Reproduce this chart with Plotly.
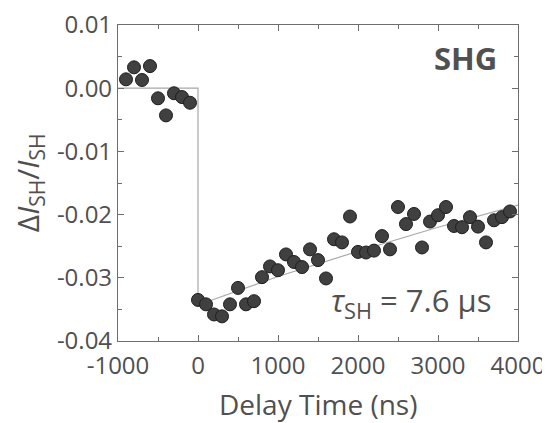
import plotly.graph_objects as go

# data points (delay in ns, relative change)
delay_ns = [-900, -800, -700, -600, -500, -400, -300, -200, -100,
            0, 100, 200, 300, 400, 500, 600, 700, 800, 900,
            1000, 1100, 1200, 1300, 1400, 1500, 1600, 1700, 1800, 1900,
            2000, 2100, 2200, 2300, 2400, 2500, 2600, 2700, 2800, 2900,
            3000, 3100, 3200, 3300, 3400, 3500, 3600, 3700, 3800, 3900]
dI_over_I = [0.0014, 0.0033, 0.0013, 0.0035, -0.0016, -0.0043, -0.0008, -0.0014, -0.0023,
             -0.0335, -0.0342, -0.0358, -0.0361, -0.0342, -0.0316, -0.0342, -0.0337, -0.0299, -0.0282,
             -0.0288, -0.0263, -0.0275, -0.0283, -0.0255, -0.0272, -0.0301, -0.0239, -0.0244, -0.0203,
             -0.0259, -0.0260, -0.0257, -0.0234, -0.0255, -0.0188, -0.0215, -0.0199, -0.0252, -0.0211,
             -0.0201, -0.0188, -0.0218, -0.0220, -0.0204, -0.0219, -0.0244, -0.0209, -0.0204, -0.0195]

# fit curve (step + exponential recovery)
fit_t = [-1000, 0, 0, 1000, 2000, 3000, 4000]
fit_y = [0.0, 0.0, -0.0343, -0.0298, -0.0258, -0.0220, -0.0185]

x_tickvals = [-1000, 0, 1000, 2000, 3000, 4000]
x_ticktext = ["-1000", "0", "1000", "2000", "3000", "4000"]
y_tickvals = [0.01, 0.00, -0.01, -0.02, -0.03, -0.04]
y_ticktext = ["0.01", "0.00", "-0.01", "-0.02", "-0.03", "-0.04"]

FONT = "Open Sans"
TXT = "#505050"
AX = "#6e6e6e"

fig = go.Figure()
fig.add_trace(go.Scatter(x=fit_t, y=fit_y, mode="lines",
                         line=dict(color="#a8a8a8", width=1.2), showlegend=False,
                         hoverinfo="skip"))
fig.add_trace(go.Scatter(x=delay_ns, y=dI_over_I, mode="markers",
                         marker=dict(size=13, color="#404040",
                                     line=dict(color="#1e1e1e", width=1)),
                         showlegend=False))

axis_common = dict(showline=True, linecolor=AX, linewidth=1.2, mirror="ticks",
                   ticks="inside", ticklen=6, tickcolor=AX, tickwidth=1.2,
                   showgrid=False, zeroline=False, automargin=False,
                   ticklabeloverflow="allow",
                   tickfont=dict(family=FONT, size=24, color=TXT))

fig.update_xaxes(range=[-1000, 4000], tickvals=x_tickvals, ticktext=x_ticktext,
                 minor=dict(ticks="inside", dtick=500, ticklen=4, tickcolor=AX, tickwidth=1.2),
                 ticklabelstandoff=3,
                 **axis_common)
fig.update_yaxes(range=[-0.04, 0.01], tickvals=y_tickvals, ticktext=y_ticktext,
                 minor=dict(ticks="inside", dtick=0.005, tick0=0, ticklen=4, tickcolor=AX, tickwidth=1.2),
                 ticklabelstandoff=0,
                 **axis_common)

fig.add_annotation(text="Delay Time (ns)", xref="paper", yref="paper",
                   x=0.5, y=-0.2, showarrow=False, xanchor="center", yanchor="middle",
                   font=dict(family=FONT, size=28, color=TXT))
fig.add_annotation(text="Δ<i>I</i><sub>SH</sub>/<i>I</i><sub>SH</sub>", xref="paper", yref="paper",
                   x=-0.222, y=0.5, textangle=-90, showarrow=False,
                   xanchor="center", yanchor="middle",
                   font=dict(family=FONT, size=30, color=TXT))
fig.add_annotation(text="<b>SHG</b>", xref="paper", yref="paper",
                   x=0.868, y=0.895, showarrow=False, xanchor="center", yanchor="middle",
                   font=dict(family=FONT, size=31, color=TXT))
fig.add_annotation(text="<i>τ</i><sub>SH</sub> = 7.6 µs", xref="paper", yref="paper",
                   x=0.733, y=0.125, showarrow=False, xanchor="center", yanchor="middle",
                   font=dict(family=FONT, size=31, color=TXT))

# the page body has an 8px default margin, so the figure is sized to fit the window
fig.update_layout(width=542, height=415, plot_bgcolor="white", paper_bgcolor="white",
                  margin=dict(l=110, r=32, t=17, b=82))
fig.write_html("out.html")
